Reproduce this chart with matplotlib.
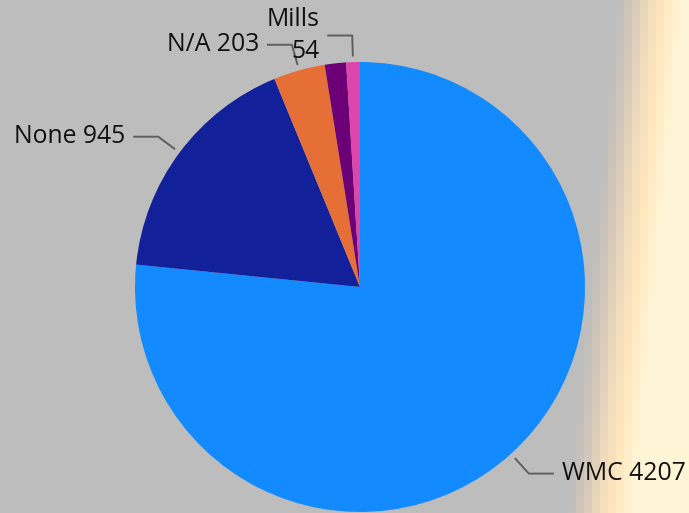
import numpy as np
import matplotlib
matplotlib.use("Agg")
import matplotlib.pyplot as plt

# slice data (purple slice carries no label)
categories = ["WMC", "None", "N/A", "", "Mills"]
counts = [4207, 945, 203, 84, 54]
colors = ["#138BFF", "#12219A", "#E66F37", "#6C0076", "#DE45AA"]
shown = [True, True, True, False, True]

W, H = 689, 513
CX, CY, R = 360, H - 287, 225

plt.rcParams["font.family"] = ["Open Sans", "DejaVu Sans"]

fig = plt.figure(figsize=(W / 100, H / 100), dpi=100)
ax = fig.add_axes([0, 0, 1, 1])

# backdrop: flat grey that fades into a warm cream band on the right
yy, xx = np.mgrid[0:H, 0:W]
xq = (xx // 8) * 8
yq = (yy // 8) * 8
x0 = 614 - 50 * (yq / H)
t = np.clip((xq - x0) / 64.0, 0, 1)
stops = [0.0, 0.25, 0.5, 0.72, 1.0]
rgb_stops = np.array([
    [189, 189, 189],
    [214, 200, 186],
    [242, 221, 188],
    [255, 231, 190],
    [255, 245, 214],
])
bg = np.zeros((H, W, 3))
for c in range(3):
    bg[..., c] = np.interp(t, stops, rgb_stops[:, c])
bg = bg / 255.0
ax.imshow(bg, extent=(0, W, 0, H), origin="upper", zorder=0)

wedges, _ = ax.pie(counts, colors=colors, startangle=90, counterclock=False,
                   center=(CX, CY), radius=R, frame=True,
                   wedgeprops=dict(linewidth=0, antialiased=True))
for w in wedges:
    w.set_zorder(2)

# leader lines: short radial stub, then a horizontal run to the text
for w, name, val, show in zip(wedges, categories, counts, shown):
    if not show:
        continue
    mid = np.deg2rad((w.theta1 + w.theta2) / 2)
    dx, dy = np.cos(mid), np.sin(mid)
    p0 = (CX + dx * R * 1.025, CY + dy * R * 1.025)
    p1 = (CX + dx * (R * 1.025 + 21), CY + dy * (R * 1.025 + 21))
    side = 1 if dx > 0.05 else -1
    p2 = (p1[0] + side * 25, p1[1])
    ax.plot([p0[0], p1[0], p2[0]], [p0[1], p1[1], p2[1]],
            color="#5f5f5f", lw=1.4, zorder=3, solid_capstyle="butt")
    if name == "Mills":
        text = f"{name}\n{val}"
    else:
        text = f"{name} {val}"
    ax.text(p2[0] + side * 8, p2[1], text, fontsize=17.8, color="#111111",
            ha="left" if side > 0 else "right", va="center",
            multialignment="right" if side < 0 else "left",
            linespacing=1.32, zorder=4)

ax.set_xlim(0, W)
ax.set_ylim(0, H)
ax.set_aspect("auto")
ax.axis("off")

fig.savefig("out.png", dpi=100)
